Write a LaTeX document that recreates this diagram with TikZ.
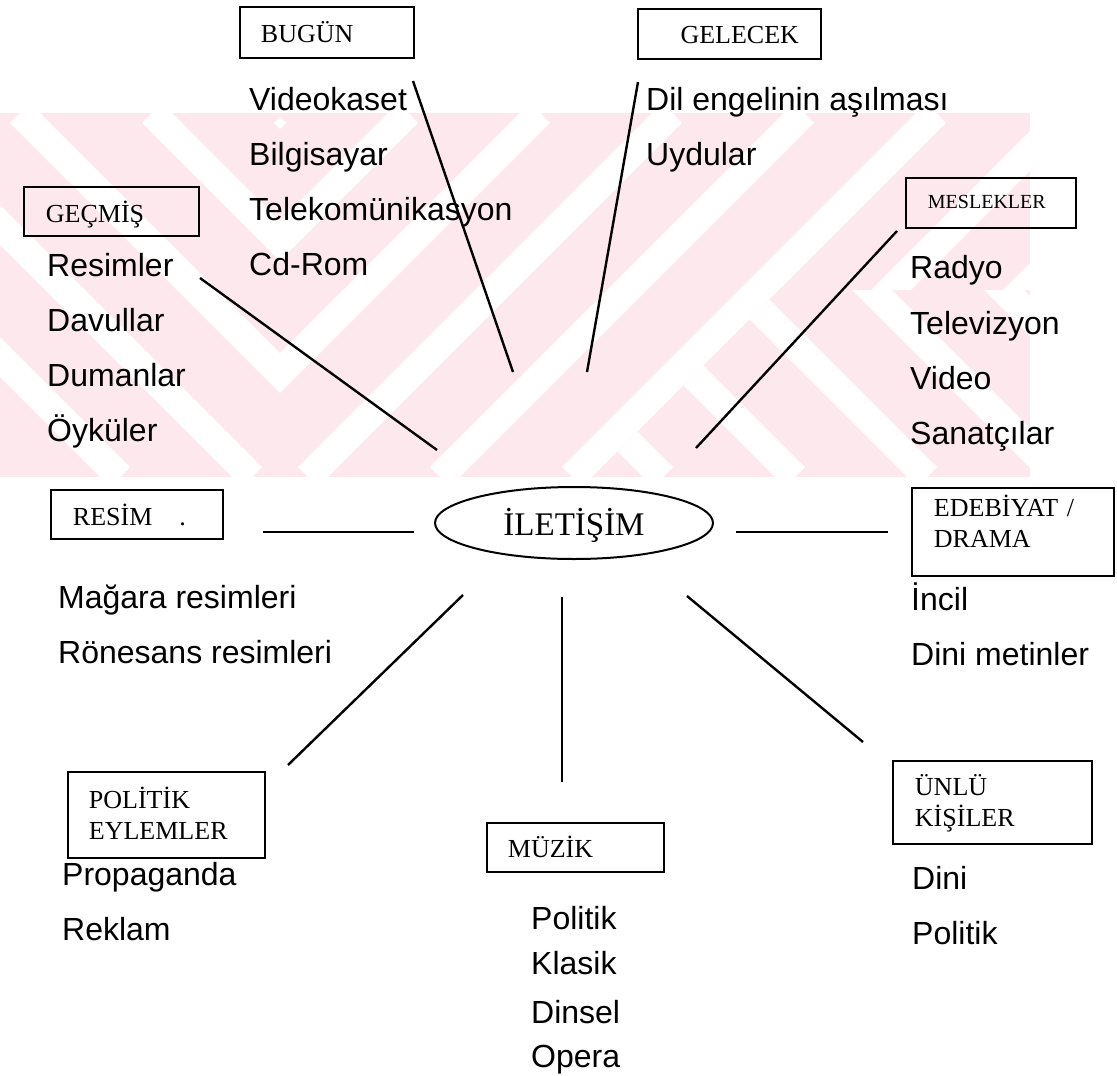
\documentclass[tikz,border=0pt]{standalone}
\usepackage{fontspec}
\setmainfont{Liberation Serif}
\newfontfamily\arialfont{Liberation Sans}
\usetikzlibrary{shapes.geometric}
\definecolor{wmpink}{RGB}{253,233,237}
\begin{document}
\begin{tikzpicture}[x=1pt,y=-1pt,
  lbl/.style={draw, line width=1.9pt, anchor=north west, inner ysep=0pt, align=left,
              font=\fontsize{26}{31}\selectfont},
  item/.style={anchor=base west, inner sep=0pt, font=\arialfont\fontsize{32}{36}\selectfont},
  conn/.style={line width=2.4pt},
  wmstripe/.style={white, line width=28pt}]
\useasboundingbox (0,0) rectangle (1117,1076);
% background watermark
\begin{scope}
  \clip (0,113) rectangle (1030,477);
  \fill[wmpink] (0,113) rectangle (1030,477);
  \begin{scope}
    \clip (280,113) -- (1030,113) -- (1030,290) -- (779,290) -- (592,477) -- (280,477) -- cycle;
    \foreach \s in {125,257,...,1500} \draw[wmstripe] (\s-113,113) -- (\s-477,477);
  \end{scope}
  \begin{scope}
    \clip (0,113) rectangle (280,477);
    \foreach \d in {-489,-357,...,300} \draw[wmstripe] (\d+113,113) -- (\d+477,477);
  \end{scope}
  \begin{scope}
    \clip (779,290) -- (1030,290) -- (1030,477) -- (592,477) -- cycle;
    \foreach \d in {-78,54,...,900} \draw[wmstripe] (\d+113,113) -- (\d+477,477);
  \end{scope}
\end{scope}

% centre
\node[draw, ellipse, line width=2pt, minimum width=278pt, minimum height=72pt, inner sep=0pt,
      text height=24pt, text depth=0pt, font=\fontsize{33}{36}\selectfont] (center) at (574,523) {İLETİŞİM};

% category boxes
\node[lbl, inner xsep=21pt, text width=132pt, text height=36pt, text depth=15pt] (bugun) at (239,6) {BUGÜN};
\node[lbl, align=right, inner xsep=22pt, text width=139pt, text height=35pt, text depth=15pt] (gelecek) at (637,8) {GELECEK};
\node[lbl, inner xsep=22pt, text width=131pt, text height=36pt, text depth=13pt] (gecmis) at (23,186) {GEÇMİŞ};
\node[lbl, inner xsep=22pt, text width=126pt, text height=31pt, text depth=19pt, font=\fontsize{20}{24}\selectfont] (meslek) at (905,177) {MESLEKLER};
\node[lbl, inner xsep=22pt, text width=128pt, text height=36pt, text depth=13pt] (resim) at (50,489) {RESİM\hspace{27pt}.};
\node[lbl, inner xsep=22pt, text width=158pt, text height=29pt, text depth=59pt] (edeb) at (911,487) {EDEBİYAT /\\DRAMA};
\node[lbl, inner xsep=21pt, text width=155pt, text height=37pt, text depth=49pt] (politik) at (67,771) {POLİTİK\\EYLEMLER};
\node[lbl, inner xsep=21pt, text width=135pt, text height=35pt, text depth=14pt] (muzik) at (486,822) {MÜZİK};
\node[lbl, inner xsep=22pt, text width=155pt, text height=35pt, text depth=48pt] (unlu) at (892,760) {ÜNLÜ\\KİŞİLER};

% item texts
\node[item] (bg1) at (249,110) {Videokaset};
\node[item] (bg2) at (249,165) {Bilgisayar};
\node[item] (bg3) at (249,220) {Telekomünikasyon};
\node[item] (bg4) at (249,275) {Cd-Rom};
\node[item] (gl1) at (646,110) {Dil engelinin aşılması};
\node[item] (gl2) at (646,165) {Uydular};
\node[item] (gc1) at (47,276) {Resimler};
\node[item] (gc2) at (47,331) {Davullar};
\node[item] (gc3) at (47,386) {Dumanlar};
\node[item] (gc4) at (47,441) {Öyküler};
\node[item] (ms1) at (910,278) {Radyo};
\node[item] (ms2) at (910,334) {Televizyon};
\node[item] (ms3) at (910,389) {Video};
\node[item] (ms4) at (910,444) {Sanatçılar};
\node[item] (rs1) at (58,608) {Mağara resimleri};
\node[item] (rs2) at (58,663) {Rönesans resimleri};
\node[item] (ed1) at (911,610) {İncil};
\node[item] (ed2) at (911,665) {Dini metinler};
\node[item] (pl1) at (62,885) {Propaganda};
\node[item] (pl2) at (62,940) {Reklam};
\node[item] (mz1) at (531,929) {Politik};
\node[item] (mz2) at (531,974) {Klasik};
\node[item] (mz3) at (531,1023) {Dinsel};
\node[item] (mz4) at (531,1067) {Opera};
\node[item] (un1) at (912,889) {Dini};
\node[item] (un2) at (912,944) {Politik};

% connector end points
\coordinate (gecA) at (200,278);   \coordinate (gecB) at (437,450);
\coordinate (bugA) at (413,81);    \coordinate (bugB) at (513,372);
\coordinate (gelA) at (638,82);    \coordinate (gelB) at (587,372);
\coordinate (mesA) at (897,231);   \coordinate (mesB) at (696,448);
\coordinate (resA) at (263,532);   \coordinate (resB) at (414,532);
\coordinate (edbA) at (736,532);   \coordinate (edbB) at (888,532);
\coordinate (polA) at (463,595);   \coordinate (polB) at (288,765);
\coordinate (muzA) at (562,597);   \coordinate (muzB) at (562,782);
\coordinate (unlA) at (687,596);   \coordinate (unlB) at (863,742);

\draw[conn] (gecA) -- (gecB);
\draw[conn] (bugA) -- (bugB);
\draw[conn] (gelA) -- (gelB);
\draw[conn] (mesA) -- (mesB);
\draw[conn] (resA) -- (resB);
\draw[conn] (edbA) -- (edbB);
\draw[conn] (polA) -- (polB);
\draw[conn] (muzA) -- (muzB);
\draw[conn] (unlA) -- (unlB);
\end{tikzpicture}
\end{document}
